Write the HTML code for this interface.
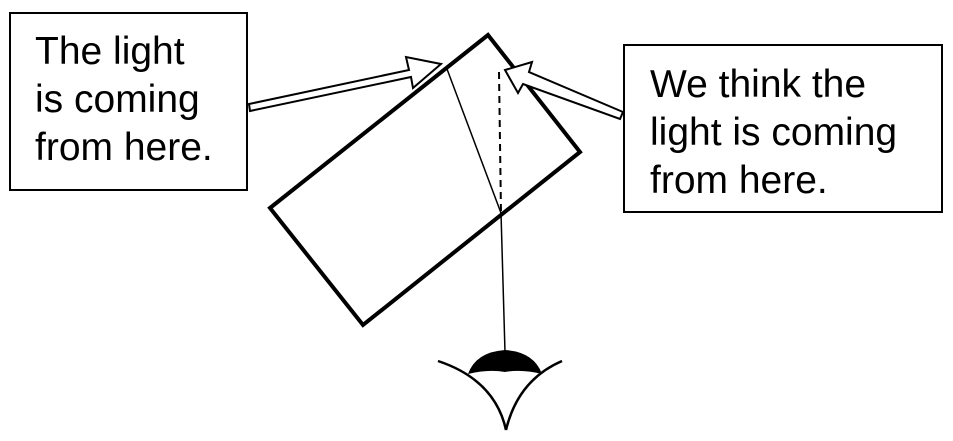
<!DOCTYPE html>
<html><head><style>body{margin:0;background:#fff}svg{display:block}</style></head>
<body>
<svg width="953" height="441" viewBox="0 0 953 441" xmlns="http://www.w3.org/2000/svg" font-family="Liberation Sans, sans-serif" font-size="39">
<rect x="10" y="13" width="237" height="177" fill="#fff" stroke="#000" stroke-width="2"/>
<text x="35" y="64">The light</text>
<text x="35" y="112">is coming</text>
<text x="35" y="160">from here.</text>
<rect x="624" y="45" width="318" height="167" fill="#fff" stroke="#000" stroke-width="2"/>
<text x="650" y="97">We think the</text>
<text x="650" y="145">light is coming</text>
<text x="650" y="193">from here.</text>
<polygon points="488,35 580,152 363,325 270,208" fill="none" stroke="#000" stroke-width="4"/>
<polyline points="447,69 501,213 505,352" fill="none" stroke="#000" stroke-width="1.5"/>
<line x1="499" y1="72" x2="501" y2="213" stroke="#000" stroke-width="2" stroke-dasharray="7,5"/>
<polygon points="249,104 409,70 406,57 441,64 413,88 411,77 250,111" fill="#fff" stroke="#000" stroke-width="2"/>
<polygon points="623,112 529,72 532,62 505,70 518,93 523,84 620,119" fill="#fff" stroke="#000" stroke-width="2"/>
<path d="M468,374 Q476,352 505,350 Q534,352 542,374 Q522,369 505,372 Q488,369 468,374 Z" fill="#000"/>
<path d="M438,361 Q495,380 506,430 M562,361 Q518,380 506,430" fill="none" stroke="#000" stroke-width="2.5"/>
</svg>
</body></html>
